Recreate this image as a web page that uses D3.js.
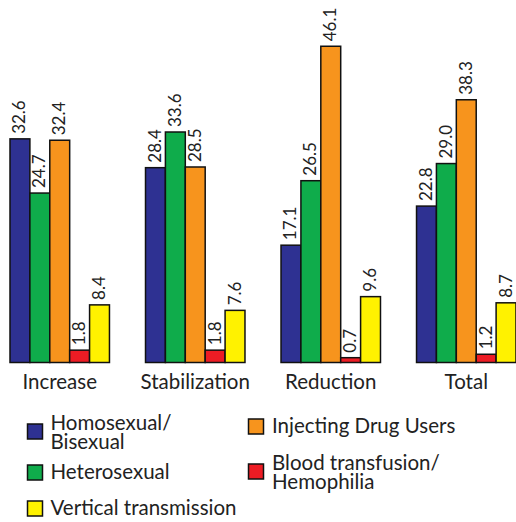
<!DOCTYPE html>
<html>
<head>
<meta charset="utf-8">
<script src="https://cdn.jsdelivr.net/npm/d3@7"></script>
<style>
  html, body { margin: 0; padding: 0; background: #fff; }
  svg { display: block; font-family: Lato, "Open Sans", sans-serif; }
</style>
</head>
<body>
<svg id="chart" width="516" height="522"></svg>
<script>
// Trend groups along the x axis
const groups = ["Increase", "Stabilization", "Reduction", "Total"];

// Transmission categories (one bar per category within each group)
const seriesNames = [
  "Homosexual/Bisexual",
  "Heterosexual",
  "Injecting Drug Users",
  "Blood transfusion/Hemophilia",
  "Vertical transmission"
];

// Percentages per category, in group order
const homosexualBisexual = [32.6, 28.4, 17.1, 22.8];
const heterosexual       = [24.7, 33.6, 26.5, 29.0];
const injectingDrugUsers = [32.4, 28.5, 46.1, 38.3];
const bloodTransfusion   = [1.8, 1.8, 0.7, 1.2];
const verticalTrans      = [8.4, 7.6, 9.6, 8.7];

const seriesValues = [homosexualBisexual, heterosexual, injectingDrugUsers, bloodTransfusion, verticalTrans];
const seriesColors = ["#2e3192", "#0fac4b", "#f7941d", "#ed1c24", "#fff200"];

// Legend entries, with line breaks as printed
const legendItems = [
  { series: 0, lines: ["Homosexual/", "Bisexual"], col: 0, y: 429.5 },
  { series: 1, lines: ["Heterosexual"], col: 0, y: 479 },
  { series: 4, lines: ["Vertical transmission"], col: 0, y: 515 },
  { series: 2, lines: ["Injecting Drug Users"], col: 1, y: 433 },
  { series: 3, lines: ["Blood transfusion/", "Hemophilia"], col: 1, y: 469.5 }
];

const svg = d3.select("#chart");

const x0 = d3.scaleBand().domain(groups).range([10, 516]).paddingInner(0.266).paddingOuter(0);
const x1 = d3.scaleBand().domain(d3.range(seriesNames.length)).range([0, x0.bandwidth()]).padding(0);
const y = d3.scaleLinear().domain([0, 50]).range([362.5, 19.5]);

const rows = [];
groups.forEach((g, gi) => {
  seriesValues.forEach((vals, si) => {
    rows.push({ group: g, series: si, value: vals[gi] });
  });
});

const bars = svg.append("g").attr("class", "bars");
bars.selectAll("rect")
  .data(rows)
  .join("rect")
  .attr("x", d => x0(d.group) + x1(d.series))
  .attr("y", d => y(d.value))
  .attr("width", x1.bandwidth())
  .attr("height", d => y(0) - y(d.value))
  .attr("fill", d => seriesColors[d.series])
  .attr("stroke", "#111")
  .attr("stroke-width", 1.5);

// Value labels, rotated to read bottom-to-top above each bar
svg.append("g").attr("class", "values")
  .selectAll("text")
  .data(rows)
  .join("text")
  .attr("transform", d => {
    const cx = x0(d.group) + x1(d.series) + x1.bandwidth() / 2 + 5.5;
    const ty = y(d.value) - 5;
    return `translate(${cx},${ty}) rotate(-90)`;
  })
  .attr("text-anchor", "start")
  .attr("font-size", 17)
  .attr("fill", "#222")
  .text(d => d.value.toFixed(1));

// Group labels under the bars
svg.append("g").attr("class", "group-labels")
  .selectAll("text")
  .data(groups)
  .join("text")
  .attr("x", d => x0(d) + x0.bandwidth() / 2)
  .attr("y", 389)
  .attr("text-anchor", "middle")
  .attr("font-size", 20.5)
  .attr("fill", "#222")
  .text(d => d);

// Legend
const colX = [27.5, 248.5];
const textX = [50.5, 272];
const legend = svg.append("g").attr("class", "legend");
const items = legend.selectAll("g")
  .data(legendItems)
  .join("g");

items.append("rect")
  .attr("x", d => colX[d.col])
  .attr("y", d => (d.lines.length > 1 ? d.y - 5.5 : d.y - 14))
  .attr("width", 15)
  .attr("height", 15)
  .attr("fill", d => seriesColors[d.series])
  .attr("stroke", "#111")
  .attr("stroke-width", 1.5);

items.append("text")
  .attr("x", d => textX[d.col])
  .attr("y", d => d.y)
  .attr("font-size", 20.5)
  .attr("fill", "#222")
  .selectAll("tspan")
  .data(d => d.lines.map((l, i) => ({ l, i, x: textX[d.col] })))
  .join("tspan")
  .attr("x", t => t.x)
  .attr("dy", t => (t.i === 0 ? 0 : 19.5))
  .text(t => t.l);
</script>
</body>
</html>
